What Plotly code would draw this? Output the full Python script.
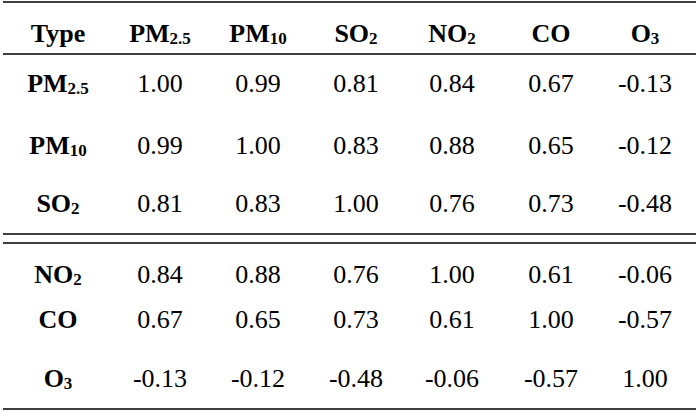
import plotly.graph_objects as go

# Data
SUB = '<span style="font-size:17px;baseline-shift:-2px">%s</span>'
col_labels = ["Type", "PM" + SUB % "2.5", "PM" + SUB % "10", "SO" + SUB % "2", "NO" + SUB % "2", "CO", "O" + SUB % "3"]
row_labels = ["PM" + SUB % "2.5", "PM" + SUB % "10", "SO" + SUB % "2", "NO" + SUB % "2", "CO", "O" + SUB % "3"]
pm25 = [1.00, 0.99, 0.81, 0.84, 0.67, -0.13]
pm10 = [0.99, 1.00, 0.83, 0.88, 0.65, -0.12]
so2 = [0.81, 0.83, 1.00, 0.76, 0.73, -0.48]
no2 = [0.84, 0.88, 0.76, 1.00, 0.61, -0.06]
co = [0.67, 0.65, 0.73, 0.61, 1.00, -0.57]
o3 = [-0.13, -0.12, -0.48, -0.06, -0.57, 1.00]
matrix = [pm25, pm10, so2, no2, co, o3]

# Layout (pixel geometry)
W, H = 699, 416
col_x = [58, 160, 258, 356, 452, 551, 645]
header_y = 35
row_y = [85, 147, 205, 276, 321, 380]
line_x0, line_x1 = 3, 696
rules = [(2, 1.5), (54, 1.5), (234, 1.5), (243, 1.5), (409, 1.5)]

FONT = "Liberation Serif"
SIZE = 26

fig = go.Figure()

# header
fig.add_trace(go.Scatter(
    x=col_x, y=[header_y] * len(col_x), mode="text",
    text=["<b>%s</b>" % c for c in col_labels],
    textfont=dict(family=FONT, size=SIZE, color="black"),
    textposition="middle center", hoverinfo="skip", showlegend=False))

# row labels
fig.add_trace(go.Scatter(
    x=[col_x[0]] * len(row_labels), y=row_y, mode="text",
    text=["<b>%s</b>" % r for r in row_labels],
    textfont=dict(family=FONT, size=SIZE, color="black"),
    textposition="middle center", hoverinfo="skip", showlegend=False))

# values
for ri, row in enumerate(matrix):
    fig.add_trace(go.Scatter(
        x=col_x[1:], y=[row_y[ri]] * len(row), mode="text",
        text=["%.2f" % v for v in row],
        textfont=dict(family=FONT, size=SIZE, color="black"),
        textposition="middle center", hoverinfo="skip", showlegend=False))

for y, w in rules:
    fig.add_shape(type="line", x0=line_x0, x1=line_x1, y0=y, y1=y,
                  xref="x", yref="y", line=dict(color="black", width=w))

fig.update_layout(
    width=W, height=H, margin=dict(l=0, r=0, t=0, b=0),
    paper_bgcolor="white", plot_bgcolor="white",
    font=dict(family=FONT, size=SIZE, color="black"),
    xaxis=dict(range=[0, W], visible=False, fixedrange=True),
    yaxis=dict(range=[H, 0], visible=False, fixedrange=True),
)

fig.write_html("out.html", config={"displayModeBar": False},
               post_script="document.body.style.margin='0';document.body.style.overflow='hidden';")
